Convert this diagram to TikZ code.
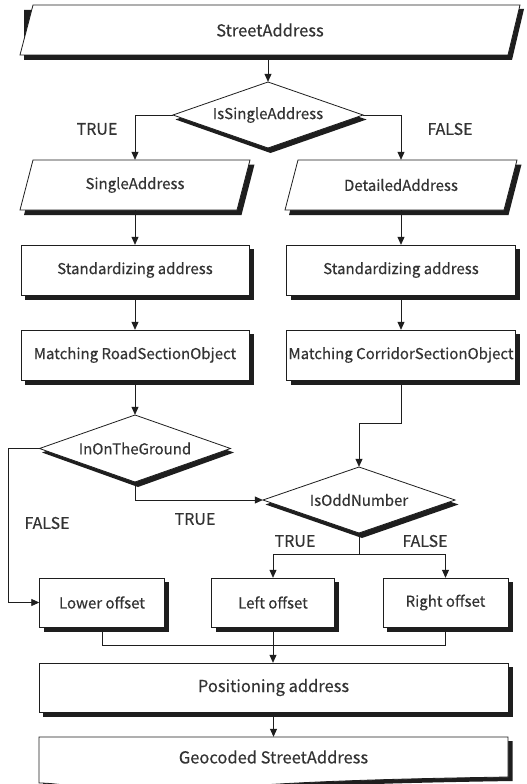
\documentclass[tikz,border=0pt]{standalone}
\usepackage{fontspec}
\setmainfont{Noto Sans CJK KR}[FakeBold=0.35]
\usetikzlibrary{shapes.geometric,arrows.meta}
\definecolor{ink}{HTML}{1E1E1E}
\definecolor{txt}{HTML}{333333}
\begin{document}
\begin{tikzpicture}[x=1pt,y=-1pt,
  every node/.style={font=\fontsize{15}{17}\selectfont, text=txt},
  big/.style={font=\fontsize{16.5}{18}\selectfont},
  lbl/.style={font=\fontsize{16}{18}\selectfont, inner sep=0},
  shp/.style={draw=ink, line width=0.8pt, fill=white},
  shd/.style={fill=ink},
  txtnode/.style={inner sep=0},
  arr/.style={draw=ink, line width=0.8pt, -{Triangle[length=8pt,width=7pt]}},
  ln/.style={draw=ink, line width=0.8pt}
]
\fill[white] (0,0) rectangle (527,784);
\clip (0,0) rectangle (527,784);

% ---- shapes drawn directly: shadow first, then outline
% StreetAddress (parallelogram)
\fill[shd] (24,10) -- (37,10) -- (37,9) -- (524,9) -- (512,60) -- (24,60) -- cycle;
\draw[shp] (33,5) -- (520,5) -- (508,55) -- (20,55) -- cycle;
% IsSingleAddress
\fill[shd] (271,87) -- (366.5,119.5) -- (270.5,153) -- (175.5,119.5) -- cycle;
\draw[shp] (268,82) -- (363,115) -- (268,148) -- (173,115) -- cycle;
% SingleAddress
\fill[shd] (37,164.5) -- (254.5,164.5) -- (241.5,215) -- (24,215) -- cycle;
\draw[shp] (33,160) -- (250,160) -- (237,210) -- (20,210) -- cycle;
% DetailedAddress
\fill[shd] (302,164.5) -- (521.5,164.5) -- (508.5,215) -- (289,215) -- cycle;
\draw[shp] (298,160) -- (517,160) -- (504,210) -- (285,210) -- cycle;
% rectangles
\foreach \xa/\ya/\xb/\yb in {21/245/249/295, 286.5/245/515.5/295, 21/330/249/380, 286.5/330/515.5/380,
  39.5/578/164.5/627, 211.5/578/334.5/627, 383/578/508/627, 39/663/508/712}{
  \fill[shd] (\xa+4,\ya+4) rectangle (\xb+4.5,\yb+4.5);
  \draw[shp] (\xa,\ya) rectangle (\xb,\yb);
}
% InOnTheGround
\fill[shd] (138,420) -- (234,452.5) -- (138,487) -- (42,452.5) -- cycle;
\draw[shp] (135,415) -- (230.5,448.5) -- (135,482) -- (39.5,448.5) -- cycle;
% IsOddNumber
\fill[shd] (362,472) -- (458.5,504.5) -- (362,538) -- (265.5,504.5) -- cycle;
\draw[shp] (359,467) -- (455,500) -- (359,533) -- (263,500) -- cycle;
% Geocoded StreetAddress (document)
\fill[shd] (43,741) -- (512.5,741) -- (512.5,781)
  .. controls (384,783) and (284,786) .. (204,794)
  .. controls (124,802) and (74,787) .. (43,787) -- cycle;
\draw[shp] (39,737) -- (508,737) -- (508,777)
  .. controls (380,779) and (280,782) .. (200,790)
  .. controls (120,798) and (70,783) .. (39,783) -- cycle;

% ---- named nodes (text, with borders matching the shapes)
\node[txtnode, big, minimum width=487pt, minimum height=50pt] (sa) at (270,30) {StreetAddress};
\node[txtnode, diamond, aspect=2.9, minimum width=190pt, minimum height=66pt] (d1) at (268,115) {IsSingleAddress};
\node[txtnode, minimum width=217pt, minimum height=50pt] (single) at (135,185) {SingleAddress};
\node[txtnode, minimum width=219pt, minimum height=50pt] (detailed) at (401,185) {DetailedAddress};
\node[txtnode, minimum width=228pt, minimum height=50pt] (std1) at (135,270) {Standardizing address};
\node[txtnode, minimum width=229pt, minimum height=50pt] (std2) at (401,270) {Standardizing address};
\node[txtnode, minimum width=228pt, minimum height=50pt] (m1) at (135,355) {Matching RoadSectionObject};
\node[txtnode, minimum width=229pt, minimum height=50pt] (m2) at (401,355) {Matching CorridorSectionObject};
\node[txtnode, diamond, aspect=2.9, minimum width=191pt, minimum height=67pt] (d2) at (135,448.5) {InOnTheGround};
\node[txtnode, diamond, aspect=2.9, minimum width=192pt, minimum height=66pt] (d3) at (359,500) {IsOddNumber};
\node[txtnode, minimum width=125pt, minimum height=49pt] (lower) at (102,602.5) {Lower offset};
\node[txtnode, minimum width=123pt, minimum height=49pt] (left) at (273,602.5) {Left offset};
\node[txtnode, minimum width=125pt, minimum height=49pt] (right) at (445.5,602.5) {Right offset};
\node[txtnode, big, minimum width=469pt, minimum height=49pt] (pos) at (273.5,687.5) {Positioning address};
\node[txtnode, big, minimum width=469pt, minimum height=40pt] (geo) at (273.5,757) {Geocoded StreetAddress};

% connectors
\draw[arr] (d1.north |- sa.south) -- (d1.north);
\draw[arr] (d1.west) -| (single.north);
\draw[arr] (d1.east) -| (detailed.north);
\draw[arr] (single.south) -- (std1.north);
\draw[arr] (detailed.south) -- (std2.north);
\draw[arr] (std1.south) -- (m1.north);
\draw[arr] (std2.south) -- (m2.north);
\draw[arr] (m1.south) -- (d2.north);
\draw[arr] (m2.south) -- ++(0,43) -| (d3.north);
\draw[arr] (d2.south) |- (d3.west);
\draw[arr] (d2.west) -- ++(-31,0) |- (lower.west);
\draw[ln] (d3.south) -- ++(0,21) coordinate (split);
\draw[arr] (split) -| (left.north);
\draw[arr] (split) -| (right.north);
\draw[ln] (lower.south) -- ++(0,18) -| (right.south);
\draw[arr] (left.south) -- (left.south |- pos.north);
\draw[arr] (pos.south) -- (pos.south |- geo.north);

% labels
\node[lbl] (t1) at (97,129) {TRUE};
\node[lbl] (f1) at (450,129) {FALSE};
\node[lbl] (f2) at (47,523) {FALSE};
\node[lbl] (t2) at (195,519) {TRUE};
\node[lbl] (t3) at (295,541) {TRUE};
\node[lbl] (f3) at (425,541) {FALSE};
\end{tikzpicture}
\end{document}
